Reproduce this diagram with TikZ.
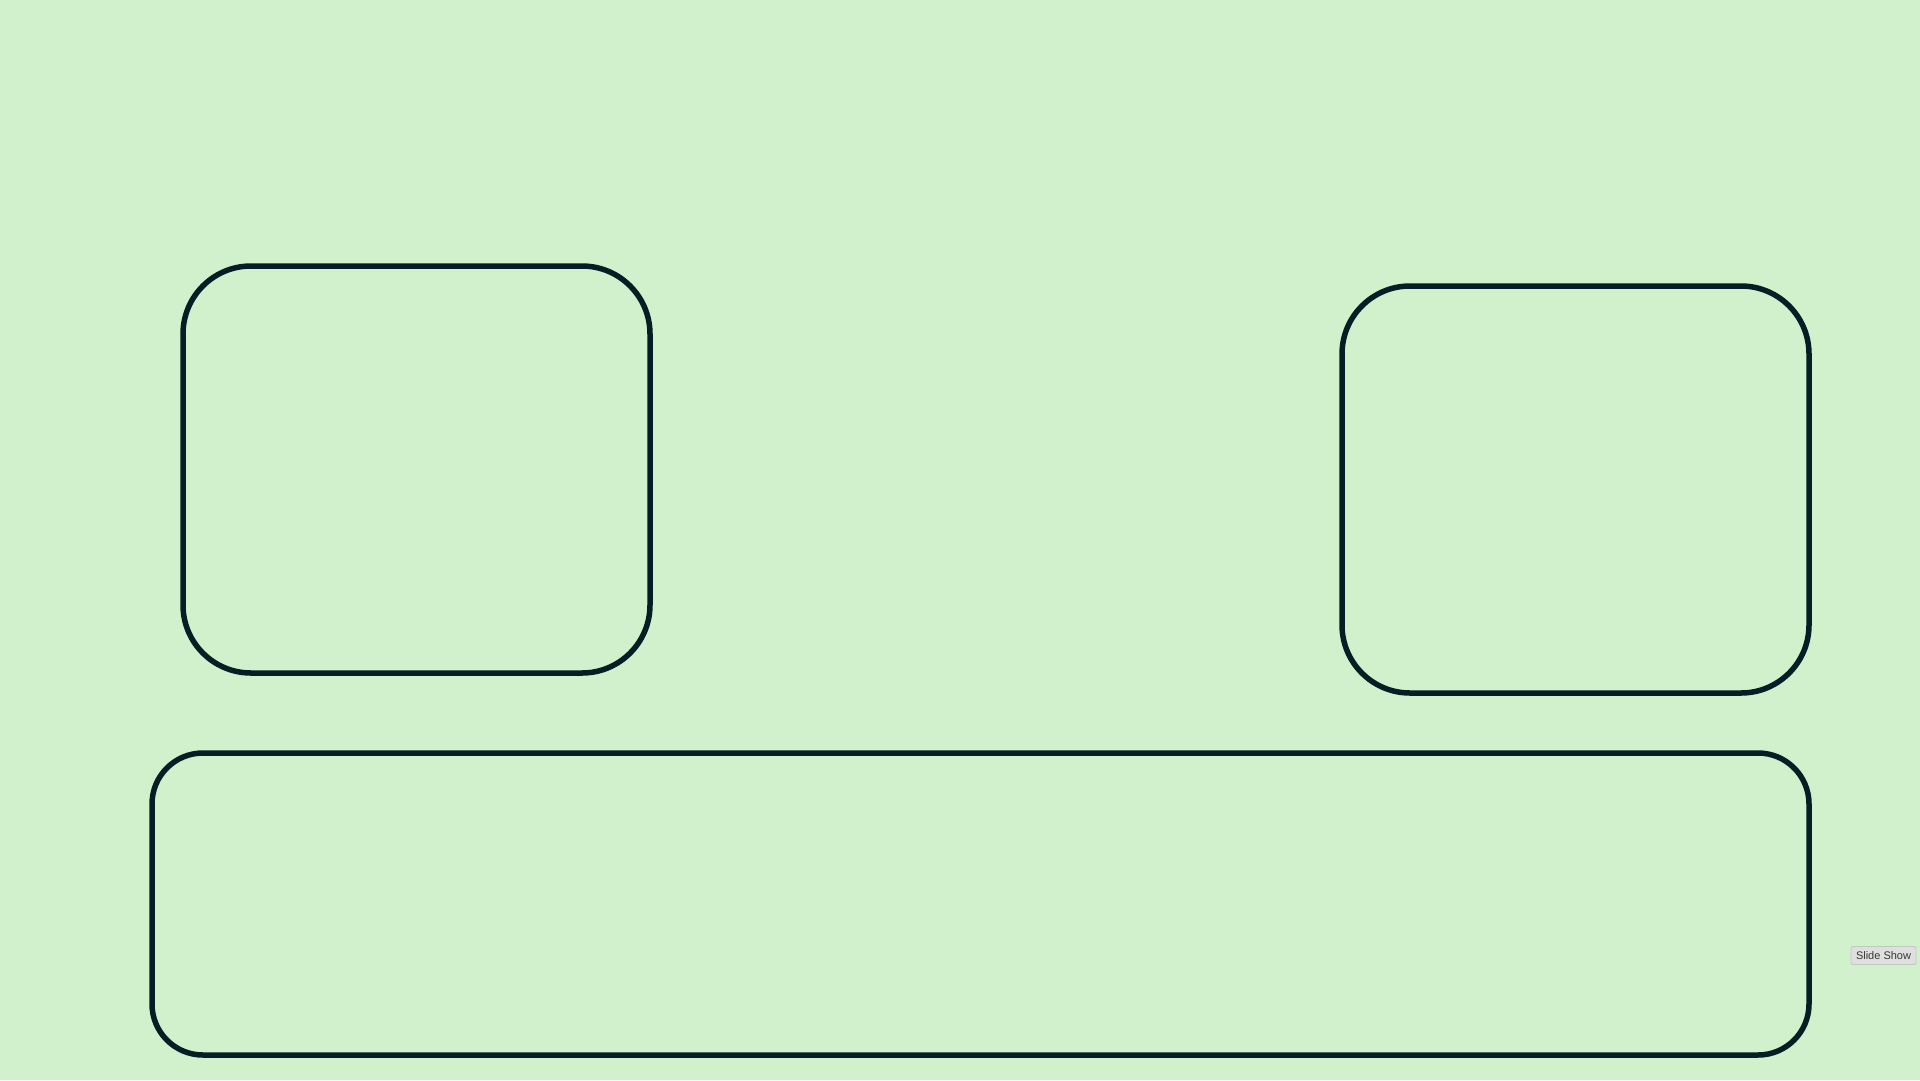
\documentclass[tikz,border=0pt]{standalone}
\usepackage{fontspec}
\setmainfont{Liberation Sans}
\definecolor{bgc}{RGB}{209,240,204}
\definecolor{strokec}{RGB}{3,30,36}
\definecolor{btnfill}{RGB}{222,224,222}
\definecolor{btnline}{RGB}{196,200,196}
\definecolor{btntext}{RGB}{55,55,55}
\begin{document}
\begin{tikzpicture}[x=1pt,y=-1pt,
  panel/.style={draw=strokec,line width=5.5pt,rounded corners=#1,inner sep=0pt,outer sep=0pt,anchor=north west},
  btn/.style={draw=btnline,fill=btnfill,line width=0.8pt,rounded corners=1.5pt,text=btntext,font=\fontsize{11}{12}\selectfont,inner sep=0pt,outer sep=0pt,anchor=north west,minimum width=65pt,minimum height=18pt}]
\fill[bgc] (0,0) rectangle (1920,1080);
\useasboundingbox (0,0) rectangle (1920,1080);
\node[panel=68pt,minimum width=467pt,minimum height=407pt] (leftbox) at (183,266) {};
\node[panel=68pt,minimum width=467pt,minimum height=407pt] (rightbox) at (1342,286) {};
\node[panel=51pt,minimum width=1657pt,minimum height=302pt] (bottombox) at (152,753) {};
\node[btn] (slideshow) at (1851,946.5) {Slide Show};
\end{tikzpicture}
\end{document}
